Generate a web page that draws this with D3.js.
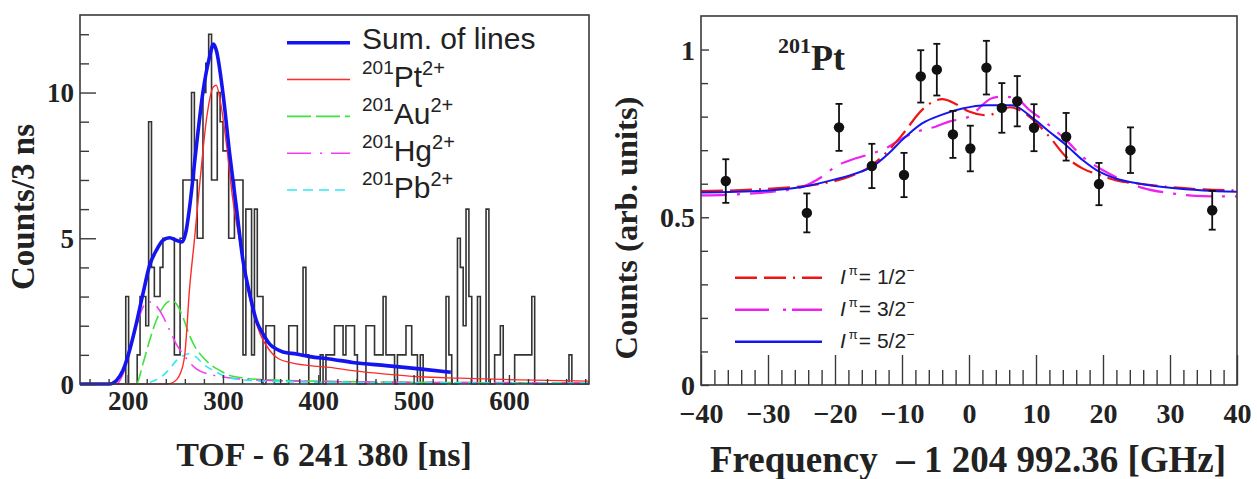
<!DOCTYPE html>
<html>
<head>
<meta charset="utf-8">
<script src="https://cdn.jsdelivr.net/npm/d3@7"></script>
<style>
  body { margin: 0; background: #fff; }
  svg { display: block; }
  .serif { font-family: "Liberation Serif", "Times New Roman", serif; font-weight: bold; fill: #222; }
  .sans { font-family: "Liberation Sans", Arial, sans-serif; fill: #222; }
</style>
</head>
<body>
<svg id="chart" width="1257" height="479"></svg>
<script>
// ---- left panel: TOF spectrum, 3 ns bins starting at 150 ns ----
const tofBinStart = 150
const tofBinWidth = 3
const tofCounts = [
  0, 0, 0, 0, 0, 0, 0, 0, 0, 0,
  0, 0, 0, 0, 0, 0, 3, 0, 0, 0,
  1, 3, 3, 2, 9, 4, 3, 3, 4, 5,
  5, 5, 5, 1, 1, 5, 7, 7, 7, 10,
  7, 5, 5, 10, 11, 12, 7, 7, 10, 9,
  8, 8, 5, 5, 7, 7, 7, 1, 6, 6,
  1, 6, 3, 3, 0, 2, 2, 2, 0, 0,
  0, 0, 0, 2, 2, 2, 1, 1, 4, 1,
  0, 0, 0, 0, 1, 0, 1, 1, 1, 2,
  2, 2, 1, 2, 2, 2, 1, 0, 0, 0,
  2, 2, 2, 1, 1, 1, 3, 1, 1, 1,
  0, 1, 1, 1, 2, 2, 1, 1, 0, 1,
  0, 0, 0, 0, 0, 0, 0, 0, 3, 1,
  0, 0, 5, 4, 2, 6, 3, 0, 0, 3,
  0, 0, 6, 0, 0, 1, 1, 2, 0, 0,
  0, 0, 1, 1, 1, 1, 1, 1, 3, 0,
  0, 0, 0, 0, 0, 0, 0, 0, 0, 0,
  0, 1, 0, 0, 0, 0, 0, 0,
]

// fitted line shapes, [TOF, counts]
const sumCurve = [[150, 0], [181, 0], [188, 0.11], [195, 0.46], [202, 1.15], [209, 2.06], [216, 3.09],
  [223, 4.07], [230, 4.58], [237, 4.93], [244, 5.02], [251, 4.93], [257, 4.87], [261, 5.2], [265, 6.07],
  [272, 8.13], [279, 10.02], [286, 11.23], [290, 11.66], [293, 11.45], [300, 9.97], [307, 7.9], [314, 6.07],
  [321, 4.24], [328, 3.09], [335, 2.18], [342, 1.72], [349, 1.37], [356, 1.2], [363, 1.1], [377, 1.03],
  [391, 0.94], [412, 0.86], [436, 0.74], [471, 0.63], [506, 0.52], [539, 0.4]]
const ptCurve = [[150, 0], [241, 0], [248, 0.06], [255, 0.34], [260, 1.03], [265, 3.3], [270, 4.93],
  [276, 7.0], [283, 9.16], [290, 10.2], [293, 10.25], [297, 9.74], [304, 8.13], [310, 6.41], [318, 4.81],
  [325, 3.44], [332, 2.41], [339, 1.72], [349, 1.15], [356, 0.92], [370, 0.74], [391, 0.63], [412, 0.57],
  [436, 0.46], [471, 0.34], [506, 0.25], [548, 0.2], [611, 0.14], [684, 0.1]]
const auCurve = [[150, 0], [209, 0], [216, 0.69], [223, 1.49], [230, 2.18], [237, 2.63], [246, 2.86],
  [251, 2.75], [258, 2.29], [265, 1.66], [272, 1.2], [279, 0.92], [286, 0.69], [297, 0.46], [307, 0.29],
  [321, 0.21], [349, 0.14], [412, 0.09], [500, 0.06], [684, 0.03]]
const hgCurve = [[150, 0], [188, 0], [195, 0.34], [202, 1.15], [209, 1.95], [216, 2.63], [222, 2.82],
  [227, 2.78], [234, 2.5], [244, 1.85], [251, 1.37], [258, 1.03], [272, 0.52], [290, 0.3], [310, 0.2],
  [350, 0.12], [450, 0.07], [684, 0.04]]
const pbCurve = [[150, 0], [215, 0], [222, 0.05], [237, 0.29], [244, 0.52], [251, 0.8], [258, 0.97],
  [264, 1.04], [272, 0.92], [279, 0.69], [290, 0.46], [300, 0.29], [314, 0.17], [349, 0.09], [450, 0.05],
  [684, 0.03]]

const tofMajorTicks = [200, 300, 400, 500, 600]
const countMajorTicks = [0, 5, 10]

// ---- right panel: laser scan of 201Pt ----
const freqs = [-36.3, -24.2, -19.4, -14.5, -9.7, -7.2, -4.8, -2.4, 0.2, 2.6, 4.9, 7.2, 9.7, 14.5, 19.4, 24.1, 36.3]
const scanCounts = [0.608, 0.513, 0.768, 0.653, 0.626, 0.92, 0.94, 0.747, 0.705, 0.946, 0.826, 0.846, 0.767, 0.74, 0.599, 0.7, 0.521]
const scanErrors = [0.065, 0.058, 0.07, 0.066, 0.066, 0.078, 0.077, 0.07, 0.068, 0.08, 0.074, 0.075, 0.07, 0.071, 0.063, 0.068, 0.058]

const spin12Curve = [[-40, 0.578], [-30, 0.585], [-22, 0.6], [-18, 0.62], [-14.5, 0.655], [-12, 0.7], [-10, 0.745],
  [-7, 0.82], [-5, 0.848], [-4, 0.852], [-2, 0.838], [0, 0.815], [2.7, 0.804], [4.5, 0.815], [6.1, 0.828],
  [7.5, 0.82], [9.6, 0.79], [12, 0.74], [14.5, 0.68], [17, 0.645], [19.5, 0.626], [22, 0.61], [25.5, 0.6],
  [30, 0.59], [35, 0.583], [40, 0.58]]
const spin32Curve = [[-40, 0.565], [-35, 0.568], [-30, 0.575], [-25, 0.59], [-22, 0.62], [-20, 0.65], [-17, 0.675],
  [-14.5, 0.69], [-12, 0.71], [-10, 0.735], [-7, 0.76], [-5, 0.77], [-3, 0.785], [0, 0.8], [3.4, 0.855],
  [5, 0.86], [7, 0.855], [9, 0.82], [11, 0.79], [14.5, 0.73], [17, 0.68], [20, 0.64], [23, 0.61], [26, 0.587],
  [30, 0.572], [35, 0.563], [40, 0.562]]
const spin52Curve = [[-40, 0.574], [-30, 0.58], [-25, 0.59], [-20, 0.613], [-17, 0.63], [-14.5, 0.65], [-12, 0.69],
  [-10, 0.73], [-7, 0.78], [-4, 0.806], [-1, 0.824], [2.6, 0.834], [6.4, 0.834], [9.6, 0.794], [12, 0.755],
  [14.5, 0.715], [17, 0.67], [19.5, 0.635], [22, 0.615], [25.5, 0.6], [30, 0.588], [35, 0.58], [40, 0.576]]

const freqMajorTicks = [-40, -30, -20, -10, 0, 10, 20, 30, 40]
const scanMajorTicks = [0, 0.5, 1]

const svg = d3.select('#chart')

function frame(g, x, y) {
  g.append('rect')
    .attr('x', x.range()[0])
    .attr('y', y.range()[1])
    .attr('width', x.range()[1] - x.range()[0])
    .attr('height', y.range()[0] - y.range()[1])
    .attr('fill', 'none')
    .attr('stroke', '#3a3a3a')
    .attr('stroke-width', 1.6)
}

function tickAxis(g, axis, translate, labelAttrs) {
  const a = g.append('g')
    .attr('transform', `translate(${translate.join(',')})`)
    .call(axis)
  a.select('.domain').remove()
  a.selectAll('.tick line').attr('stroke', '#3a3a3a').attr('stroke-width', 1.4)
  a.selectAll('.tick text')
    .attr('class', 'serif')
    .attr('fill', '#222')
    .style('font-size', labelAttrs.size + 'px')
    .attr('dy', labelAttrs.dy)
  if (labelAttrs.x !== undefined) a.selectAll('.tick text').attr('x', labelAttrs.x)
  if (labelAttrs.y !== undefined) a.selectAll('.tick text').attr('y', labelAttrs.y)
  a.attr('font-family', null).attr('font-size', null)
  return a
}

function drawCurve(g, data, x, y, color, width, dash) {
  g.append('path')
    .datum(data)
    .attr('fill', 'none')
    .attr('stroke', color)
    .attr('stroke-width', width)
    .attr('stroke-dasharray', dash || null)
    .attr('d', d3.line().x(d => x(d[0])).y(d => y(d[1])).curve(d3.curveMonotoneX))
}

function renderTof() {
  const g = svg.append('g').classed('tof', true)
  const x = d3.scaleLinear([tofBinStart, tofBinStart + tofBinWidth * tofCounts.length], [80, 589])
  const y = d3.scaleLinear([0, 12.66], [384, 15])

  // histogram outline
  const steps = tofCounts.map((c, i) => [tofBinStart + i * tofBinWidth, c])
  steps.push([tofBinStart + tofBinWidth * tofCounts.length, tofCounts[tofCounts.length - 1]])
  g.append('path')
    .datum(steps)
    .attr('fill', 'none')
    .attr('stroke', '#333')
    .attr('stroke-width', 1.6)
    .attr('d', d3.line().x(d => x(d[0])).y(d => y(d[1])).curve(d3.curveStepAfter))

  drawCurve(g, auCurve, x, y, '#3ee23e', 1.6, '14,5')
  drawCurve(g, hgCurve, x, y, '#f23cf2', 1.6, '18,7,2,7')
  drawCurve(g, pbCurve, x, y, '#2ee8f8', 1.6, '8,6')
  drawCurve(g, ptCurve, x, y, '#ff2a2a', 1.4)
  drawCurve(g, sumCurve, x, y, '#1414f0', 3.6)

  frame(g, x, y)

  const minorX = d3.range(160, 684, 20).filter(v => !tofMajorTicks.includes(v))
  tickAxis(g, d3.axisBottom(x).tickValues(minorX).tickSize(-5).tickFormat(''), [0, 384], { size: 27 })
  tickAxis(g, d3.axisBottom(x).tickValues(tofMajorTicks).tickSize(-9).tickFormat(d3.format('d')), [0, 384],
    { size: 27, y: 26, dy: 0 })
  const minorY = d3.range(1, 13).filter(v => !countMajorTicks.includes(v))
  tickAxis(g, d3.axisLeft(y).tickValues(minorY).tickSize(-9).tickFormat(''), [80, 0], { size: 27 })
  tickAxis(g, d3.axisLeft(y).tickValues(countMajorTicks).tickSize(-16).tickFormat(d3.format('d')), [80, 0],
    { size: 27, x: -6, dy: '0.34em' })

  g.append('text')
    .attr('class', 'serif')
    .attr('x', 324).attr('y', 466)
    .attr('text-anchor', 'middle')
    .style('font-size', '34px')
    .text('TOF - 6 241 380 [ns]')
  g.append('text')
    .attr('class', 'serif')
    .attr('transform', 'translate(34,207) rotate(-90)')
    .attr('text-anchor', 'middle')
    .style('font-size', '33px')
    .text('Counts/3 ns')

  // legend
  const legend = [
    { label: null, text: 'Sum. of lines', color: '#1414f0', width: 3.6, dash: null },
    { label: ['201', 'Pt', '2+'], color: '#ff2a2a', width: 1.4, dash: null },
    { label: ['201', 'Au', '2+'], color: '#3ee23e', width: 1.6, dash: '24,5' },
    { label: ['201', 'Hg', '2+'], color: '#f23cf2', width: 1.6, dash: '24,9,2,9' },
    { label: ['201', 'Pb', '2+'], color: '#2ee8f8', width: 1.6, dash: '10,6' },
  ]
  const ly = d3.scaleLinear([0, 4], [42.7, 190])
  legend.forEach((item, i) => {
    g.append('line')
      .attr('x1', 287).attr('x2', 350)
      .attr('y1', ly(i)).attr('y2', ly(i))
      .attr('stroke', item.color)
      .attr('stroke-width', item.width)
      .attr('stroke-dasharray', item.dash)
    const t = g.append('text').attr('class', 'sans').attr('x', 362)
    if (item.text) {
      t.attr('y', ly(i) + 6.6).style('font-size', '30px').text(item.text)
    } else {
      t.attr('y', ly(i) + 7.5)
      t.append('tspan').style('font-size', '19px').attr('dy', -13).text(item.label[0])
      t.append('tspan').style('font-size', '30px').attr('dy', 13).text(item.label[1])
      t.append('tspan').style('font-size', '20px').attr('dy', -12).text(item.label[2])
    }
  })
}

function renderScan() {
  const g = svg.append('g').classed('scan', true)
  const x = d3.scaleLinear([-40, 40], [701, 1237])
  const y = d3.scaleLinear([0, 1.1], [385, 16])

  drawCurve(g, spin32Curve, x, y, '#ee22ee', 2.2, '26,10,3,10')
  drawCurve(g, spin12Curve, x, y, '#ee1515', 2.2, '22,7,22,7,2,7')
  drawCurve(g, spin52Curve, x, y, '#1515ee', 2)

  const pts = freqs.map((f, i) => ({ f, c: scanCounts[i], e: scanErrors[i] }))
  const bars = g.append('g').attr('stroke', '#111').attr('stroke-width', 1.8)
  bars.selectAll('.err').data(pts).join('line')
    .attr('x1', d => x(d.f)).attr('x2', d => x(d.f))
    .attr('y1', d => y(d.c - d.e)).attr('y2', d => y(d.c + d.e))
  bars.selectAll('.capLo').data(pts).join('line')
    .attr('x1', d => x(d.f) - 3.5).attr('x2', d => x(d.f) + 3.5)
    .attr('y1', d => y(d.c - d.e)).attr('y2', d => y(d.c - d.e))
  bars.selectAll('.capHi').data(pts).join('line')
    .attr('x1', d => x(d.f) - 3.5).attr('x2', d => x(d.f) + 3.5)
    .attr('y1', d => y(d.c + d.e)).attr('y2', d => y(d.c + d.e))
  g.selectAll('.pt').data(pts).join('circle')
    .attr('cx', d => x(d.f)).attr('cy', d => y(d.c))
    .attr('r', 5.2)
    .attr('fill', '#111')

  frame(g, x, y)

  const minorX = d3.range(-38, 40, 2).filter(v => !freqMajorTicks.includes(v))
  tickAxis(g, d3.axisBottom(x).tickValues(minorX).tickSize(-15).tickFormat(''), [0, 385], { size: 28 })
  tickAxis(g, d3.axisBottom(x).tickValues(freqMajorTicks).tickSize(-30).tickFormat(d3.format('d')), [0, 385],
    { size: 28, y: 38, dy: 0 })
  const minorY = d3.range(1, 11).map(v => v / 10).filter(v => !scanMajorTicks.includes(v))
  tickAxis(g, d3.axisLeft(y).tickValues(minorY).tickSize(-7).tickFormat(''), [701, 0], { size: 28 })
  tickAxis(g, d3.axisLeft(y).tickValues(scanMajorTicks).tickSize(-8).tickFormat(d3.format('~g')), [701, 0],
    { size: 28, x: -6, dy: '0.34em' })

  const title = g.append('text').attr('class', 'serif').attr('x', 778).attr('y', 70)
  title.append('tspan').style('font-size', '22px').attr('dy', -17).text('201')
  title.append('tspan').style('font-size', '36px').attr('dy', 17).text('Pt')

  g.append('text')
    .attr('class', 'serif')
    .attr('x', 968).attr('y', 472)
    .attr('text-anchor', 'middle')
    .style('font-size', '37px')
    .style('white-space', 'pre')
    .text('Frequency  \u2013 1 204 992.36 [GHz]')
  g.append('text')
    .attr('class', 'serif')
    .attr('transform', 'translate(637,228) rotate(-90)')
    .attr('text-anchor', 'middle')
    .style('font-size', '32.5px')
    .text('Counts (arb. units)')

  const legend = [
    { spin: '1/2', color: '#ee1515', dash: '22,7,22,7,2,7' },
    { spin: '3/2', color: '#ee22ee', dash: '34,14,3,6' },
    { spin: '5/2', color: '#1515ee', dash: null },
  ]
  const ly = d3.scaleLinear([0, 2], [277.7, 341.7])
  legend.forEach((item, i) => {
    g.append('line')
      .attr('x1', 735).attr('x2', 822)
      .attr('y1', ly(i)).attr('y2', ly(i))
      .attr('stroke', item.color)
      .attr('stroke-width', 2.4)
      .attr('stroke-dasharray', item.dash)
    const t = g.append('text').attr('class', 'sans').attr('x', 840).attr('y', ly(i) + 6.5).style('font-size', '21px')
    t.append('tspan').style('font-style', 'italic').text('I')
    t.append('tspan').style('font-size', '13px').attr('dx', 3).attr('dy', -9).text('\u03c0')
    t.append('tspan').attr('dx', 1).attr('dy', 9).text('= ' + item.spin)
    t.append('tspan').style('font-size', '14px').attr('dy', -9).text('\u2212')
  })
}

renderTof()
renderScan()
</script>
</body>
</html>
